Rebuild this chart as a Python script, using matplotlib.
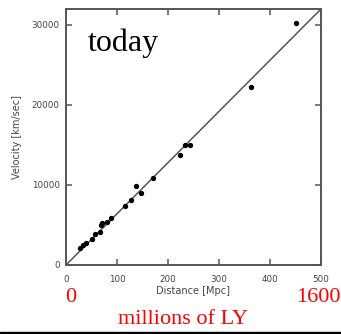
import matplotlib
matplotlib.use("Agg")
import numpy as np
import matplotlib.pyplot as plt
from matplotlib.patches import Rectangle

# galaxy distances (Mpc) and recession velocities (km/sec)
distance = [27, 34, 39, 50, 57, 66, 69, 71, 81, 89, 115, 127, 138, 148, 171,
            224, 233, 243, 362, 451]
velocity = [2150, 2520, 2690, 3310, 3900, 4100, 4940, 5190, 5350, 5900, 7350,
            8100, 9850, 9020, 10900, 13730, 14940, 15060, 22270, 30190]

# fitted line, Hubble constant in km/sec/Mpc
hubble = 64.0
fit_x = [0, 500]

x_ticks = [0, 100, 200, 300, 400, 500]
y_ticks = [0, 10000, 20000, 30000]

fig = plt.figure(figsize=(3.41, 3.34), dpi=100)
ax = fig.add_axes([66 / 341, 1 - 265 / 334, 255 / 341, 256 / 334])

ax.plot(fit_x, [hubble * v for v in fit_x], color="#555555", lw=1.1)
ax.scatter(distance, velocity, s=8, color="black", zorder=3)

ax.set_xlim(0, 500)
ax.set_ylim(0, 32000)
ax.set_xticks(x_ticks)
ax.set_yticks(y_ticks)
ax.tick_params(direction="in", top=True, right=True, length=4, width=1.1,
               color="#555555", labelsize=6.3, labelcolor="#444444")
ax.tick_params(axis="x", pad=7)
ax.tick_params(axis="y", pad=4.5)
for s in ax.spines.values():
    s.set_color("#555555")
    s.set_linewidth(1.4)

ax.set_xlabel("Distance [Mpc]", fontsize=7, color="#444444", labelpad=2)
ax.set_ylabel("Velocity [km/sec]", fontsize=7, color="#444444", labelpad=7)

ax.text(0.085, 0.925, "today", transform=ax.transAxes, fontsize=23,
        family="Liberation Serif", va="top", ha="left")

# red annotations below the axis
fig.text(71 / 341, 1 - 297 / 334, "0", color="red", fontsize=16,
         family="Liberation Serif", ha="center", va="center")
fig.text(318 / 341, 1 - 297 / 334, "1600", color="red", fontsize=16,
         family="Liberation Serif", ha="center", va="center")
fig.text(183 / 341, 1 - 320 / 334, "millions of LY", color="red", fontsize=16,
         family="Liberation Serif", ha="center", va="center")

# dark strip at the very bottom
fig.patches.append(Rectangle((0, 0), 1, 2.5 / 334, transform=fig.transFigure,
                             color="black", zorder=5))

fig.savefig("out.png", dpi=100)
